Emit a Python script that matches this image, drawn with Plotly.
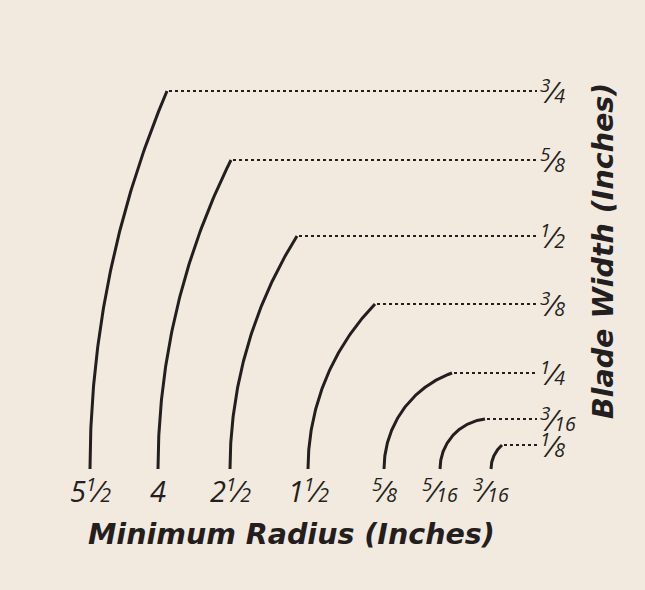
import numpy as np
import plotly.graph_objects as go

# ---- data ----
radius_labels = ["5 1/2", "4", "2 1/2", "1 1/2", "5/8", "5/16", "3/16"]
width_labels = ["3/4", "5/8", "1/2", "3/8", "1/4", "3/16", "1/8"]
# horizontal position of each arc's base (chart units)
arc_base_x = [90, 158, 230, 308, 384, 440, 491]
# horizontal position where each arc reaches its top
arc_top_x = [167, 231, 297, 375, 452, 485, 502]
# height of each arc top above the baseline (chart units)
arc_height = [378, 309, 233, 165, 96, 50, 24]
leader_end_x = 537

BG = "#f3eadf"
INK = "#231f20"
FONT = "Open Sans"
TITLE_FONT = "DejaVu Sans"
LAB_SIZE = 29


def frac_html(s):
    out = ""
    for p in s.split():
        if "/" in p:
            n, d = p.split("/")
            out += ('<span style="font-size:27px"><sup>%s</sup></span>⁄'
                    '<span style="font-size:19.5px">%s</span>' % (n, d))
        else:
            out += p
    return "<i>" + out + "</i>"


fig = go.Figure()

for bx, tx, h in zip(arc_base_x, arc_top_x, arc_height):
    dx = tx - bx
    R = (dx ** 2 + h ** 2) / (2 * dx)
    cx = bx + R
    th_end = np.pi - np.arcsin(min(h / R, 1.0))
    th = np.linspace(np.pi, th_end, 120)
    xs = cx + R * np.cos(th)
    ys = R * np.sin(th)
    fig.add_trace(go.Scatter(x=xs, y=ys, mode="lines",
                             line=dict(color=INK, width=3),
                             hoverinfo="skip", showlegend=False))
    fig.add_trace(go.Scatter(x=[tx + 2, leader_end_x], y=[h, h], mode="lines",
                             line=dict(color=INK, width=1.8, dash="3px,3px"),
                             hoverinfo="skip", showlegend=False))

for bx, lab in zip(arc_base_x, radius_labels):
    fig.add_annotation(x=bx, y=-43, xref="x", yref="y", text=frac_html(lab),
                       showarrow=False, xanchor="center", yanchor="bottom",
                       font=dict(family=FONT, size=LAB_SIZE, color=INK))

for h, lab in zip(arc_height, width_labels):
    fig.add_annotation(x=leader_end_x + 1, y=h - 22, xref="x", yref="y",
                       text=frac_html(lab),
                       showarrow=False, xanchor="left", yanchor="bottom",
                       font=dict(family=FONT, size=LAB_SIZE, color=INK))

fig.add_annotation(x=291, y=-65, xref="x", yref="y",
                   text="<b><i>Minimum Radius (Inches)</i></b>",
                   showarrow=False, xanchor="center", yanchor="middle",
                   font=dict(family=TITLE_FONT, size=28.5, color=INK))
fig.add_annotation(x=603, y=218, xref="x", yref="y",
                   text="<b><i>Blade Width (Inches)</i></b>", textangle=-90,
                   showarrow=False, xanchor="center", yanchor="middle",
                   font=dict(family=TITLE_FONT, size=28.5, color=INK))

fig.update_xaxes(range=[0, 645], visible=False, fixedrange=True)
fig.update_yaxes(range=[-121, 469], visible=False, fixedrange=True)
fig.update_layout(width=645, height=590, margin=dict(l=0, r=0, t=0, b=0),
                  paper_bgcolor=BG, plot_bgcolor=BG)

fig.write_html("out.html", config={"displayModeBar": False},
               post_script="document.body.style.margin='0';"
                           "document.body.style.background='%s';" % BG)
